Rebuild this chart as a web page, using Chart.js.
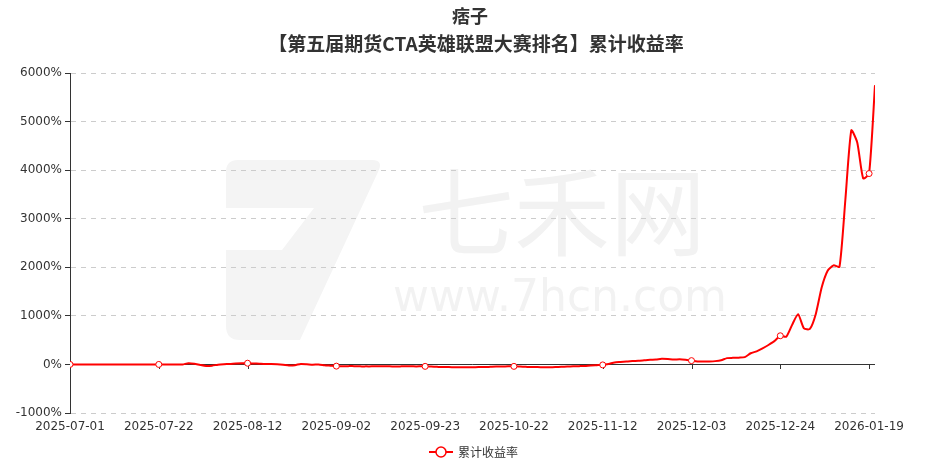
<!DOCTYPE html>
<html>
<head>
<meta charset="utf-8">
<script src="https://cdn.jsdelivr.net/npm/chart.js@4.4.1/dist/chart.umd.min.js"></script>
<style>
  html, body { margin: 0; padding: 0; background: #fff; }
  #wrap { width: 926px; height: 467px; }
</style>
</head>
<body>
<div id="wrap"><canvas id="returnChart"></canvas></div>
<script>
const chartTitle = '痞子';
const chartSubtitle = '【第五届期货CTA英雄联盟大赛排名】累计收益率';
const seriesName = '累计收益率';

// labels shown on the x axis, one every 15 trading days
const tickLabels = ['2025-07-01', '2025-07-22', '2025-08-12', '2025-09-02', '2025-09-23',
    '2025-10-22', '2025-11-12', '2025-12-03', '2025-12-24', '2026-01-19'];
const tickEvery = 15;

// cumulative return (%) per trading day
const returnPct = [
    0, 0, 0, 0, 0, 0, 0, 0, 0, 0,
    0, 0, 0, 0, 0, 0, 0, 0, 0, 0,
    25, 15, -10, -30, -25, -5, 5, 10, 20, 25,
    25, 20, 15, 10, 10, 5, -5, -20, -15, 10,
    5, -5, 0, -15, -25, -35, -35, -35, -35, -40,
    -40, -40, -38, -40, -40, -42, -40, -38, -40, -40,
    -40, -45, -50, -55, -55, -58, -58, -60, -58, -55,
    -55, -50, -45, -45, -40, -40, -45, -50, -55, -55,
    -58, -58, -55, -50, -45, -40, -35, -30, -20, -15,
    -10, 10, 40, 50, 60, 70, 75, 85, 95, 100,
    115, 110, 100, 105, 95, 78, 62, 60, 62, 68,
    85, 130, 135, 140, 150, 230, 270, 330, 400, 480,
    590, 570, 815, 1035, 740, 730, 1040, 1590, 1930, 2040,
    2010, 3400, 4820, 4570, 3830, 3930, 5750
];

const points = returnPct.map((v, i) => ({ x: i, y: v }));
const markerRadius = returnPct.map((v, i) => (i % tickEvery === 0 ? 3 : 0));

const cjkFont = '"Noto Sans CJK SC", sans-serif';
const axisFont = '"DejaVu Sans", sans-serif';

// watermark, title, zero axis line with its ticks, and the legend
const decorPlugin = {
    id: 'decor',
    beforeDraw(chart) {
        const ctx = chart.ctx;
        ctx.save();
        ctx.fillStyle = '#f4f4f4';
        ctx.beginPath();
        ctx.moveTo(238, 160);
        ctx.lineTo(372, 160);
        ctx.quadraticCurveTo(384, 160, 378, 172);
        ctx.lineTo(300, 340);
        ctx.lineTo(240, 340);
        ctx.quadraticCurveTo(226, 340, 226, 326);
        ctx.lineTo(226, 250);
        ctx.lineTo(282, 250);
        ctx.lineTo(314, 208);
        ctx.lineTo(226, 208);
        ctx.lineTo(226, 172);
        ctx.quadraticCurveTo(226, 160, 238, 160);
        ctx.fill();
        ctx.fillStyle = '#f2f2f2';
        ctx.textAlign = 'center';
        ctx.textBaseline = 'middle';
        ctx.font = '96px ' + cjkFont;
        ctx.fillText('七禾网', 562, 212);
        ctx.font = '44px ' + axisFont;
        ctx.fillText('www.7hcn.com', 560, 300);

        ctx.fillStyle = '#333';
        ctx.font = 'bold 18px ' + cjkFont;
        ctx.fillText(chartTitle, 470, 16);
        ctx.font = 'bold 19px ' + cjkFont;
        ctx.fillText(chartSubtitle, 476, 44);
        ctx.restore();
    },
    beforeDatasetsDraw(chart) {
        const ctx = chart.ctx;
        const xs = chart.scales.x;
        const y0 = Math.round(chart.scales.y.getPixelForValue(0));
        ctx.save();
        ctx.strokeStyle = '#333';
        ctx.lineWidth = 1;
        ctx.beginPath();
        ctx.moveTo(chart.chartArea.left, y0 + 0.5);
        ctx.lineTo(chart.chartArea.right, y0 + 0.5);
        tickLabels.forEach((t, k) => {
            const px = Math.round(xs.getPixelForValue(k * tickEvery)) + 0.5;
            ctx.moveTo(px, y0);
            ctx.lineTo(px, y0 + 5);
        });
        ctx.stroke();
        ctx.restore();
    },
    afterDraw(chart) {
        const ctx = chart.ctx;
        const cx = 441, cy = 452;
        ctx.save();
        ctx.strokeStyle = '#ff0000';
        ctx.lineWidth = 2;
        ctx.beginPath();
        ctx.moveTo(cx - 12, cy);
        ctx.lineTo(cx + 12, cy);
        ctx.stroke();
        ctx.fillStyle = '#fff';
        ctx.lineWidth = 1.5;
        ctx.beginPath();
        ctx.arc(cx, cy, 5, 0, Math.PI * 2);
        ctx.fill();
        ctx.stroke();
        ctx.fillStyle = '#333';
        ctx.font = '12px ' + cjkFont;
        ctx.textAlign = 'left';
        ctx.textBaseline = 'middle';
        ctx.fillText(seriesName, cx + 17, cy);
        ctx.restore();
    }
};

const ctx = document.getElementById('returnChart').getContext('2d');

new Chart(ctx, {
    type: 'line',
    data: {
        datasets: [{
            label: seriesName,
            data: points,
            borderColor: '#ff0000',
            backgroundColor: '#ffffff',
            borderWidth: 2,
            tension: 0.2,
            pointRadius: markerRadius,
            pointBorderWidth: 1,
            pointBorderColor: '#ff0000',
            pointBackgroundColor: '#ffffff',
            pointHoverRadius: markerRadius
        }]
    },
    options: {
        responsive: true,
        maintainAspectRatio: false,
        animation: false,
        layout: { padding: { top: 73, right: 51, bottom: 0, left: 0 } },
        plugins: {
            legend: { display: false },
            tooltip: { enabled: false },
            title: { display: false }
        },
        scales: {
            x: {
                type: 'linear',
                min: 0,
                max: returnPct.length - 1,
                afterFit(scale) { scale.height = 54; },
                afterBuildTicks(scale) {
                    scale.ticks = tickLabels.map((t, k) => ({ value: k * tickEvery }));
                },
                ticks: {
                    autoSkip: false,
                    maxRotation: 0,
                    padding: 7,
                    color: '#333',
                    font: { family: axisFont, size: 12 },
                    callback(value) { return tickLabels[Math.round(value / tickEvery)]; }
                },
                grid: { display: false, drawTicks: false },
                border: { display: false }
            },
            y: {
                min: -1000,
                max: 6000,
                afterFit(scale) { scale.width = 70; },
                ticks: {
                    stepSize: 1000,
                    padding: 3,
                    color: '#333',
                    font: { family: axisFont, size: 12 },
                    callback(value) { return value + '%'; }
                },
                grid: {
                    color: '#cccccc',
                    tickColor: '#333',
                    tickLength: 5,
                    lineWidth: 1
                },
                border: { display: true, color: '#333', width: 1, dash: [5, 5] }
            }
        }
    },
    plugins: [decorPlugin]
});
</script>
</body>
</html>
